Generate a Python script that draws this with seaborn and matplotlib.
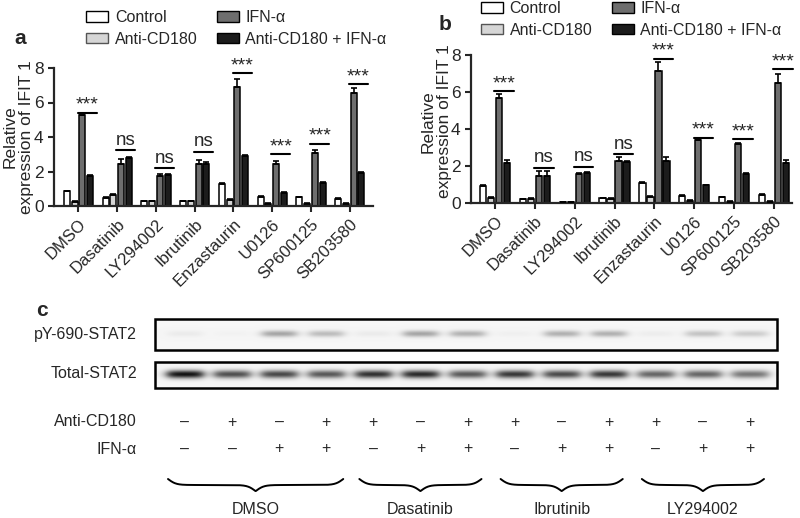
import numpy as np
import pandas as pd
import matplotlib
matplotlib.use("Agg")
import matplotlib.pyplot as plt
import seaborn as sns
from matplotlib.patches import Rectangle, Patch

# ---- data: panels a and b (relative expression of IFIT1) ----
drugs = ["DMSO", "Dasatinib", "LY294002", "Ibrutinib",
         "Enzastaurin", "U0126", "SP600125", "SB203580"]
treatments = ["Control", "Anti-CD180", "IFN-α", "Anti-CD180 + IFN-α"]

a_control = [0.85, 0.45, 0.27, 0.27, 1.30, 0.55, 0.50, 0.42]
a_anti = [0.23, 0.62, 0.28, 0.28, 0.33, 0.14, 0.14, 0.14]
a_ifn = [5.25, 2.45, 1.76, 2.45, 6.87, 2.42, 3.06, 6.57]
a_combo = [1.72, 2.78, 1.80, 2.42, 2.87, 0.76, 1.34, 1.89]
a_err_ifn = [0.05, 0.25, 0.12, 0.22, 0.50, 0.20, 0.20, 0.25]
a_err_combo = [0.05, 0.08, 0.08, 0.15, 0.10, 0.05, 0.05, 0.08]
a_err_small = [0.04, 0.05, 0.03, 0.03, 0.06, 0.04, 0.04, 0.04]
a_sig = ["***", "ns", "ns", "ns", "***", "***", "***", "***"]
a_sig_height = [5.4, 3.25, 2.2, 3.15, 7.7, 3.0, 3.6, 7.05]

b_control = [0.92, 0.20, 0.05, 0.25, 1.10, 0.38, 0.30, 0.45]
b_anti = [0.29, 0.22, 0.05, 0.22, 0.33, 0.10, 0.07, 0.08]
b_ifn = [5.70, 1.48, 1.55, 2.25, 7.14, 3.38, 3.17, 6.49]
b_combo = [2.15, 1.48, 1.60, 2.20, 2.25, 0.95, 1.58, 2.16]
b_err_ifn = [0.20, 0.25, 0.05, 0.25, 0.50, 0.05, 0.10, 0.50]
b_err_combo = [0.20, 0.25, 0.05, 0.05, 0.25, 0.05, 0.05, 0.15]
b_err_small = [0.04, 0.03, 0.02, 0.03, 0.05, 0.04, 0.03, 0.05]
b_sig = ["***", "ns", "ns", "ns", "***", "***", "***", "***"]
b_sig_height = [6.05, 1.91, 1.95, 2.63, 7.8, 3.53, 3.44, 7.23]

# ---- data: panel c (western blot) ----
blot_groups = ["DMSO", "Dasatinib", "Ibrutinib", "LY294002"]
blot_group_lanes = [4, 3, 3, 3]
anti_cd180_signs = ["–", "+", "–", "+", "+", "–", "+", "+", "–", "+", "+", "–", "+"]
ifn_signs = ["–", "–", "+", "+", "–", "+", "+", "–", "+", "+", "–", "+", "+"]
py_stat2_band = [0.05, 0.02, 0.35, 0.25, 0.05, 0.35, 0.30, 0.03, 0.30, 0.30, 0.04, 0.22, 0.18]
total_stat2_band = [0.98, 0.72, 0.75, 0.68, 0.85, 0.88, 0.68, 0.82, 0.74, 0.82, 0.62, 0.62, 0.55]

palette = {"Control": "white", "Anti-CD180": "#d6d6d6",
           "IFN-α": "#6e6e6e", "Anti-CD180 + IFN-α": "#1c1c1c"}

sns.set_style("ticks")
plt.rcParams["font.family"] = ["Liberation Sans", "DejaVu Sans"]

fig = plt.figure(figsize=(8, 5.18), dpi=100)

# overlay axes in pixel coordinates for panel c and panel letters
ov = fig.add_axes([0, 0, 1, 1])
ov.set_xlim(0, 800)
ov.set_ylim(518, 0)
ov.axis("off")


def bar_panel(ax, control, anti, ifn, combo, err_small, err_ifn, err_combo,
              sig, sig_h, xlim):
    df = pd.DataFrame({
        "drug": drugs * 4,
        "treatment": np.repeat(treatments, len(drugs)),
        "value": control + anti + ifn + combo,
    })
    sns.barplot(data=df, x="drug", y="value", hue="treatment", order=drugs,
                hue_order=treatments, palette=palette, errorbar=None,
                width=0.8, gap=0.22, edgecolor="black", linewidth=1.1,
                legend=False, ax=ax)
    errs = [err_small, err_small, err_ifn, err_combo]
    vals = [control, anti, ifn, combo]
    for cont, v, e in zip(ax.containers, vals, errs):
        xs = [p.get_x() + p.get_width() / 2 for p in cont]
        ax.errorbar(xs, v, yerr=[np.zeros(len(v)), e], fmt="none",
                    ecolor="black", elinewidth=1.2, capsize=2.5,
                    capthick=1.2, zorder=3)
    for i, (s, h) in enumerate(zip(sig, sig_h)):
        ax.plot([i - 0.02, i + 0.47], [h, h], color="black", lw=1.5,
                clip_on=False)
        if s == "***":
            ax.text(i + 0.225, h - 0.05, s, ha="center", va="bottom",
                    fontsize=14)
        else:
            ax.text(i + 0.225, h + 0.08, s, ha="center", va="bottom",
                    fontsize=13.5)
    ax.set_ylim(0, 8)
    ax.set_xlim(*xlim)
    ax.set_yticks([0, 2, 4, 6, 8])
    ax.set_xlabel("")
    ax.set_ylabel("Relative\nexpression of IFIT 1", fontsize=12.5,
                  linespacing=1.1)
    ax.tick_params(axis="both", labelsize=12.5, width=1.5, length=4)
    ax.tick_params(axis="x", labelsize=12)
    ax.set_xticks(range(len(drugs)))
    ax.set_xticklabels(drugs, rotation=45, ha="right",
                       rotation_mode="anchor")
    for sp in ["left", "bottom"]:
        ax.spines[sp].set_linewidth(1.6)
    sns.despine(ax=ax)


ax_a = fig.add_axes([54 / 800, 1 - 206 / 518, 319 / 800, 138 / 518])
bar_panel(ax_a, a_control, a_anti, a_ifn, a_combo, a_err_small, a_err_ifn,
          a_err_combo, a_sig, a_sig_height, (-0.63, 7.6))
ax_a.yaxis.set_label_coords(-0.062, 0.5)

ax_b = fig.add_axes([471 / 800, 1 - 203 / 518, 321 / 800, 148 / 518])
bar_panel(ax_b, b_control, b_anti, b_ifn, b_combo, b_err_small, b_err_ifn,
          b_err_combo, b_sig, b_sig_height, (-0.6, 7.45))
ax_b.yaxis.set_label_coords(-0.06, 0.55)

handles = [Patch(facecolor=palette[t],
                 edgecolor="#555555" if t == "Anti-CD180" else "black",
                 linewidth=1.0, label=t) for t in treatments]
for x0, y0 in [(86, 10), (481, 1)]:
    fig.legend(handles=handles, loc="upper left",
               bbox_to_anchor=(x0 / 800, 1 - y0 / 518), ncol=2,
               frameon=False, fontsize=11.5, handlelength=1.4,
               handleheight=0.65, handletextpad=0.4, columnspacing=1.2,
               labelspacing=0.42, borderaxespad=0, borderpad=0)

# panel letters
ov.text(20, 38, "a", fontsize=15, fontweight="bold", ha="center", va="center")
ov.text(445, 25, "b", fontsize=15, fontweight="bold", ha="center", va="center")
ov.text(42, 311, "c", fontsize=15, fontweight="bold", ha="center", va="center")

# ---- panel c: blot strips ----
n_lanes = len(anti_cd180_signs)
lane_x = np.linspace(185, 750, n_lanes)
box_x0, box_x1 = 155, 777


def blot_strip(y0, y1, band_y, band_sy, band_hw, intensities):
    xs = np.arange(box_x0, box_x1, 0.5)
    ys = np.arange(y0, y1, 0.5)
    X, Y = np.meshgrid(xs, ys)
    dark = np.zeros_like(X)
    for cx, v in zip(lane_x, intensities):
        px = 1 / (1 + np.exp((np.abs(X - cx) - band_hw) / 3.0))
        py = np.exp(-((Y - band_y) / band_sy) ** 2)
        dark += v * px * py
    img = np.clip(0.965 - 0.92 * dark, 0, 1)
    ov.imshow(img, cmap="gray", vmin=0, vmax=1, aspect="auto",
              extent=(box_x0, box_x1, y1, y0), interpolation="bilinear",
              zorder=1)
    ov.add_patch(Rectangle((box_x0, y0), box_x1 - box_x0, y1 - y0,
                           fill=False, edgecolor="black", lw=1.8, zorder=2))


blot_strip(319, 350, 333.5, 3.2, 17, py_stat2_band)
blot_strip(362, 388, 374, 4.0, 18, total_stat2_band)
ov.set_xlim(0, 800)
ov.set_ylim(518, 0)

ov.text(137, 335, "pY-690-STAT2", ha="right", va="center", fontsize=11.5)
ov.text(137, 374, "Total-STAT2", ha="right", va="center", fontsize=11.5)
ov.text(137, 422, "Anti-CD180", ha="right", va="center", fontsize=11.5)
ov.text(137, 449, "IFN-α", ha="right", va="center", fontsize=11.5)
for x, s1, s2 in zip(lane_x, anti_cd180_signs, ifn_signs):
    ov.text(x, 422, s1, ha="center", va="center", fontsize=11.5)
    ov.text(x, 449, s2, ha="center", va="center", fontsize=11.5)


def draw_brace(x0, x1, ytop, depth):
    n = 200
    beta = (x1 - x0) / 4.0
    half = np.linspace(0, 0.5, n)
    yh = (1 / (1 + np.exp(-beta * (half - half[0])))
          + 1 / (1 + np.exp(-beta * (half - half[-1]))))
    y = np.concatenate([yh, yh[::-1]])
    y = (y - y.min()) / (y.max() - y.min())
    xs = np.linspace(x0, x1, 2 * n)
    ov.plot(xs, ytop + y * depth, color="black", lw=1.4)


start = 0
for g, nl in zip(blot_groups, blot_group_lanes):
    first, last = lane_x[start], lane_x[start + nl - 1]
    pad = 17 if nl == 4 else 14
    draw_brace(first - pad, last + pad, 479, 12)
    ov.text((first + last) / 2, 509, g, ha="center", va="center", fontsize=11.5)
    start += nl

fig.savefig("out.png", dpi=100)
